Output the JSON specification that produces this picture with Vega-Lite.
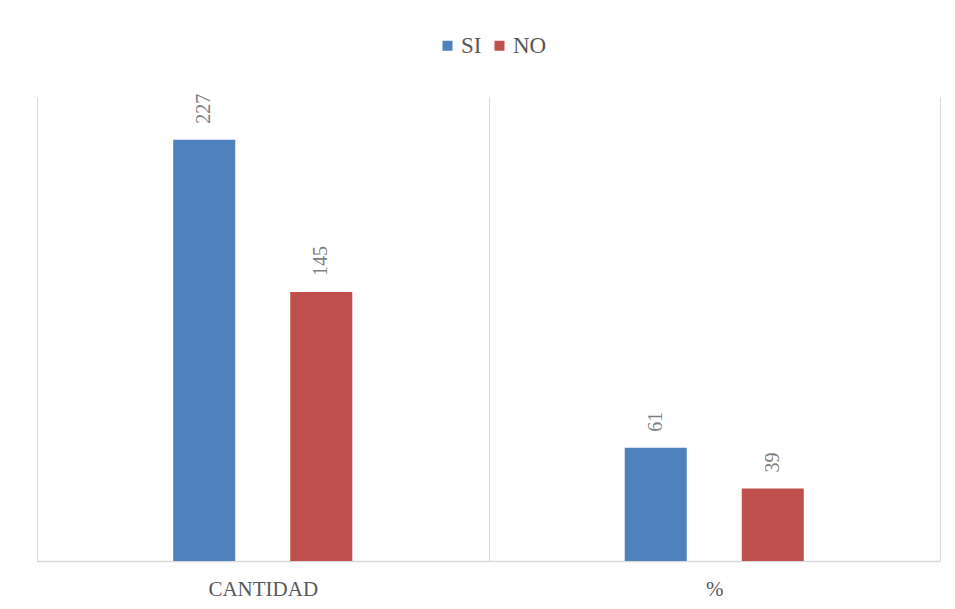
{
  "$schema": "https://vega.github.io/schema/vega-lite/v6.json",
  "autosize": {"type": "none"},
  "width": 903,
  "height": 464,
  "padding": {"left": 37, "top": 97, "right": 15, "bottom": 48},
  "background": "#ffffff",
  "config": {
    "view": {"stroke": null},
    "font": "Liberation Serif"
  },
  "data": {
    "values": [
      {"categoria": "CANTIDAD", "serie": "SI", "valor": 227},
      {"categoria": "CANTIDAD", "serie": "NO", "valor": 145},
      {"categoria": "%", "serie": "SI", "valor": 61},
      {"categoria": "%", "serie": "NO", "valor": 39}
    ]
  },
  "encoding": {
    "x": {
      "field": "categoria",
      "type": "nominal",
      "sort": ["CANTIDAD", "%"],
      "scale": {"paddingInner": 0, "paddingOuter": 0},
      "axis": {
        "title": null,
        "labelAngle": 0,
        "labelFont": "Liberation Serif",
        "labelFontSize": 21,
        "labelColor": "#595959",
        "labelPadding": 17,
        "ticks": false,
        "grid": true,
        "tickBand": "extent",
        "gridColor": "#d9d9d9",
        "gridWidth": 1,
        "domainColor": "#d9d9d9",
        "domainWidth": 1.5
      }
    },
    "xOffset": {
      "field": "serie",
      "type": "nominal",
      "scale": {"domain": ["_a", "SI", "NO", "_b"], "paddingInner": 0.47, "paddingOuter": 0.164}
    },
    "y": {
      "field": "valor",
      "type": "quantitative",
      "scale": {"domain": [0, 250]},
      "axis": null
    }
  },
  "layer": [
    {
      "mark": {"type": "bar"},
      "encoding": {
        "color": {
          "field": "serie",
          "type": "nominal",
          "scale": {"domain": ["SI", "NO"], "range": ["#4f81bd", "#c0504d"]},
          "legend": {
            "title": null,
            "orient": "none",
            "direction": "horizontal",
            "legendX": 399,
            "legendY": -63,
            "symbolType": "square",
            "symbolSize": 100,
            "symbolStrokeWidth": 0,
            "labelFont": "Liberation Serif",
            "labelFontSize": 23,
            "labelColor": "#595959",
            "labelOffset": 2,
            "columnPadding": 6,
            "padding": 0
          }
        }
      }
    },
    {
      "mark": {
        "type": "text",
        "angle": 270,
        "align": "left",
        "baseline": "middle",
        "dx": 16,
        "font": "Liberation Serif",
        "fontSize": 20,
        "color": "#7f7f7f"
      },
      "encoding": {
        "text": {"field": "valor", "type": "quantitative"}
      }
    }
  ]
}
